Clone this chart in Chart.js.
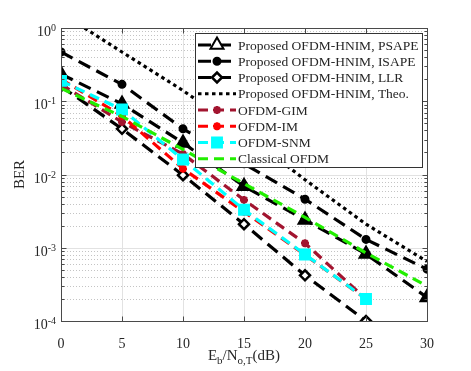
<!DOCTYPE html>
<html>
<head>
<meta charset="utf-8">
<script src="https://cdn.jsdelivr.net/npm/chart.js@4.4.0/dist/chart.umd.min.js"></script>
<style>
html, body { margin: 0; padding: 0; background: #fff; }
#wrap { width: 471px; height: 371px; }
</style>
</head>
<body>
<div id="wrap"><canvas id="berChart" width="471" height="371"></canvas></div>
<script>
// Eb/No (dB)
const snr = [0, 5, 10, 15, 20, 25, 30];
const xTicks = [0, 5, 10, 15, 20, 25, 30];
const yExps = [0, -1, -2, -3, -4];

// BER per scheme (null = not simulated)
const psape = [0.235, 0.092, 0.027, 0.0069, 0.0024, 0.00082, 0.00021];
const isape = [0.47, 0.17, 0.042, 0.014, 0.0046, 0.0013, 0.00051];
const llr = [0.16, 0.042, 0.0098, 0.0021, 0.00042, 0.0001, null];
const theo = [1.6, 0.47, 0.14, 0.037, 0.0085, 0.0021, 0.00065];
const gim = [0.17, 0.052, 0.019, 0.0045, 0.00115, 0.0002, null];
const im = [0.2, 0.063, 0.012, 0.0031, 0.0008, 0.0002, null];
const snm = [0.19, 0.077, 0.016, 0.0033, 0.00081, 0.0002, null];
const classical = [0.15, 0.062, 0.022, 0.0075, 0.0026, 0.00085, 0.0003];

const seriesNames = [
    'Proposed OFDM-HNIM, PSAPE',
    'Proposed OFDM-HNIM, ISAPE',
    'Proposed OFDM-HNIM, LLR',
    'Proposed OFDM-HNIM, Theo.',
    'OFDM-GIM',
    'OFDM-IM',
    'OFDM-SNM',
    'Classical OFDM'
];

const SERIF = '"Liberation Serif", "Times New Roman", serif';
const TXT = '#262626';

function pts(arr) {
    return snr.map((x, i) => ({ x: x, y: arr[i] })).filter(p => p.y !== null);
}

function series(label, arr, color, dash, style, radius, fill, order, bw) {
    return {
        label: label,
        data: pts(arr),
        borderColor: color,
        borderWidth: 3.2,
        borderDash: dash,
        pointStyle: style,
        pointRadius: style ? radius : 0,
        pointBackgroundColor: fill,
        pointBorderColor: color,
        pointBorderWidth: bw || 2,
        legendFill: fill,
        fill: false,
        tension: 0,
        order: order
    };
}

const datasets = [
    series(seriesNames[0], psape, '#000000', [13, 7], 'triangle', 7.5, '#000000', 8, 2),
    series(seriesNames[1], isape, '#000000', [13, 7], 'circle', 3.5, '#000000', 7, 2),
    series(seriesNames[2], llr, '#000000', [13, 7], 'rectRot', 5, '#ffffff', 6, 2.5),
    series(seriesNames[3], theo, '#000000', [3.5, 3.5], false, 0, '#000000', 5),
    series(seriesNames[4], gim, '#a2142f', [10, 6], 'star', 4, '#a2142f', 4, 2.5),
    series(seriesNames[5], im, '#ff0000', [10, 6], 'star', 4, '#ff0000', 3, 2.5),
    series(seriesNames[6], snm, '#00ffff', [10, 6], 'rect', 7, '#00ffff', 2, 2),
    series(seriesNames[7], classical, '#22ee00', [10, 6], false, 0, '#22ee00', 1)
];
// legend samples use white-filled markers for the black series
datasets[0].legendFill = '#ffffff';
datasets[1].legendFill = '#000000';

function line(ctx, x1, y1, x2, y2) {
    ctx.beginPath();
    ctx.moveTo(x1, y1);
    ctx.lineTo(x2, y2);
    ctx.stroke();
}

const decor = {
    id: 'decor',
    beforeDatasetsDraw(chart) {
        const { ctx, chartArea: a, scales: { x, y } } = chart;
        ctx.save();
        ctx.lineWidth = 1;
        // minor log grid (dotted)
        ctx.strokeStyle = '#c4c4c4';
        ctx.setLineDash([1, 2]);
        for (let e = -4; e < 0; e++) {
            for (let m = 2; m <= 9; m++) {
                const py = Math.round(y.getPixelForValue(m * Math.pow(10, e))) + 0.5;
                line(ctx, a.left, py, a.right, py);
            }
        }
        // major grid
        ctx.setLineDash([]);
        ctx.strokeStyle = '#e2e2e2';
        xTicks.forEach(v => {
            const px = Math.round(x.getPixelForValue(v)) + 0.5;
            line(ctx, px, a.top, px, a.bottom);
        });
        yExps.forEach(e => {
            const py = Math.round(y.getPixelForValue(Math.pow(10, e))) + 0.5;
            line(ctx, a.left, py, a.right, py);
        });
        ctx.restore();
    },
    afterDraw(chart) {
        const { ctx, chartArea: a, scales: { x, y } } = chart;
        const L = Math.round(a.left) + 0.5, R = Math.round(a.right) + 0.5;
        const T = Math.round(a.top) + 0.5, B = Math.round(a.bottom) + 0.5;
        ctx.save();
        // axes box with inward ticks
        ctx.strokeStyle = '#4a4a4a';
        ctx.lineWidth = 1;
        ctx.strokeRect(L, T, R - L, B - T);
        xTicks.forEach(v => {
            const px = Math.round(x.getPixelForValue(v)) + 0.5;
            line(ctx, px, B, px, B - 5);
            line(ctx, px, T, px, T + 5);
        });
        for (let e = -4; e <= 0; e++) {
            for (let m = 1; m <= 9; m++) {
                if (e === 0 && m > 1) break;
                const py = Math.round(y.getPixelForValue(m * Math.pow(10, e))) + 0.5;
                const len = m === 1 ? 5 : 3;
                line(ctx, L, py, L + len, py);
                line(ctx, R, py, R - len, py);
            }
        }

        // y tick labels 10^k
        ctx.fillStyle = TXT;
        ctx.textBaseline = 'alphabetic';
        ctx.textAlign = 'right';
        yExps.forEach(e => {
            const py = y.getPixelForValue(Math.pow(10, e));
            const ex = e === 0 ? '0' : '-' + Math.abs(e);
            ctx.font = '10px ' + SERIF;
            const w = ctx.measureText(ex).width;
            ctx.fillText(ex, 56, py + 3);
            ctx.font = '14px ' + SERIF;
            ctx.fillText('10', 56 - w, py + 8);
        });

        // y title
        ctx.save();
        ctx.translate(24, (a.top + a.bottom) / 2);
        ctx.rotate(-Math.PI / 2);
        ctx.textAlign = 'center';
        ctx.font = '15px ' + SERIF;
        ctx.fillText('BER', 0, 0);
        ctx.restore();

        // x title E_b/N_{o,T}(dB)
        const parts = [['E', 15, 0], ['b', 11, 4], ['/N', 15, 0], ['o,T', 11, 4], ['(dB)', 15, 0]];
        let total = 0;
        parts.forEach(p => { ctx.font = p[1] + 'px ' + SERIF; total += ctx.measureText(p[0]).width; });
        let cx = (a.left + a.right) / 2 - total / 2;
        ctx.textAlign = 'left';
        parts.forEach(p => {
            ctx.font = p[1] + 'px ' + SERIF;
            ctx.fillText(p[0], cx, 360 + p[2]);
            cx += ctx.measureText(p[0]).width;
        });

        // legend
        const lx = 195.5, ly = 33.5, lw = 227, lh = 134;
        ctx.fillStyle = '#ffffff';
        ctx.fillRect(lx, ly, lw, lh);
        ctx.strokeStyle = '#333333';
        ctx.strokeRect(lx, ly, lw, lh);
        chart.data.datasets.forEach((ds, i) => {
            const cy = 45 + i * 16.25;
            ctx.save();
            ctx.strokeStyle = ds.borderColor;
            ctx.lineWidth = ds.borderWidth;
            ctx.setLineDash(ds.borderDash);
            line(ctx, 198, cy, 236, cy);
            ctx.setLineDash([]);
            if (ds.pointStyle) {
                ctx.fillStyle = ds.legendFill;
                ctx.strokeStyle = ds.pointBorderColor;
                ctx.lineWidth = ds.pointBorderWidth;
                Chart.helpers.drawPoint(ctx, {
                    pointStyle: ds.pointStyle, rotation: 0,
                    radius: ds.pointRadius, borderWidth: ds.pointBorderWidth
                }, 217, cy);
            }
            ctx.restore();
            ctx.fillStyle = TXT;
            ctx.font = '13.5px ' + SERIF;
            ctx.textBaseline = 'middle';
            ctx.fillText(ds.label, 238, cy + 1);
        });
        ctx.restore();
    }
};

new Chart(document.getElementById('berChart').getContext('2d'), {
    type: 'line',
    data: { datasets: datasets },
    options: {
        responsive: false,
        animation: false,
        devicePixelRatio: 1,
        layout: { padding: { left: 0, right: 44, top: 28, bottom: 0 } },
        plugins: {
            legend: { display: false },
            tooltip: { enabled: false }
        },
        scales: {
            x: {
                type: 'linear',
                min: 0,
                max: 30,
                grid: { display: false },
                border: { display: false },
                ticks: {
                    stepSize: 5,
                    color: TXT,
                    padding: 7,
                    font: { family: SERIF, size: 14 }
                },
                afterFit: s => { s.height = 50; }
            },
            y: {
                type: 'logarithmic',
                min: 1e-4,
                max: 1,
                grid: { display: false },
                border: { display: false },
                ticks: { display: false },
                afterFit: s => { s.width = 61; }
            }
        }
    },
    plugins: [decor]
});
</script>
</body>
</html>
